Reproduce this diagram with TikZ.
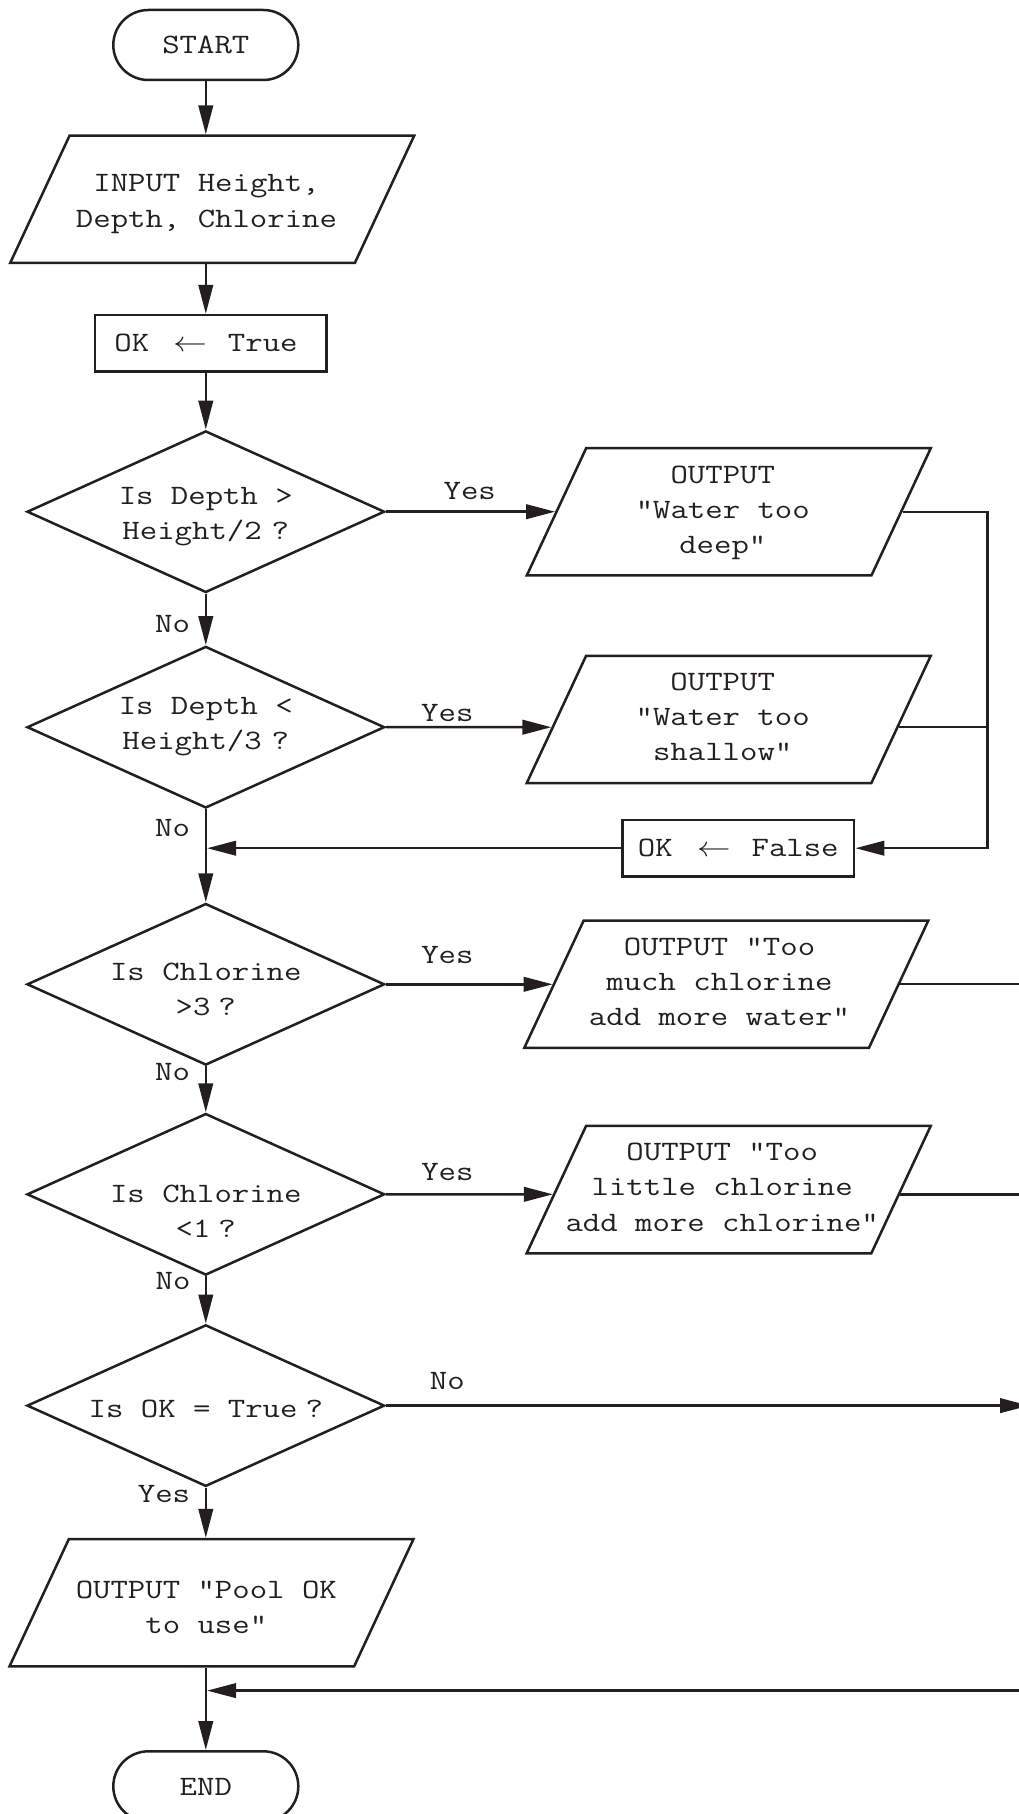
\documentclass[tikz,border=0pt]{standalone}
\usepackage{fontspec}
\usepackage{graphicx}
\usetikzlibrary{shapes.geometric,shapes.misc,arrows.meta,intersections,calc}
\definecolor{ink}{HTML}{231F20}
\newcommand\T[3]{\raisebox{#2}[0pt][0pt]{\makebox[0pt]{\hspace*{#1}\hspace*{#1}\scalebox{1}[0.83]{\begin{tabular}[t]{@{}c@{}}#3\end{tabular}}}}}
\newcommand\qs{\hspace{8pt}}
\newcommand\la{\scalebox{3.38}{\fontsize{10}{12}\selectfont$\leftarrow$}}
\newcommand\asg[2]{#1\hspace{24pt}\la\hspace{21pt}#2}
\tikzset{
  every node/.style={inner sep=0pt, text=ink, font=\ttfamily\fontsize{33.8}{42.6}\selectfont},
  base/.style={draw=ink, line width=2.5pt},
  term/.style={base, rounded rectangle, minimum width=185pt, minimum height=70pt},
  para/.style={base, trapezium, trapezium left angle=65, trapezium right angle=115,
    trapezium stretches body=true, minimum width=404pt, inner xsep=0pt, inner ysep=63.65pt},
  box/.style={base, rectangle, minimum width=231.7pt, minimum height=56.5pt},
  dia/.style={base, diamond, minimum width=357.6pt, minimum height=161.6pt},
  flow/.style={draw=ink, line width=2.5pt},
  arr/.style={flow, -{Triangle[length=29pt,width=14.5pt]}},
}
\begin{document}
\begin{tikzpicture}[x=1pt,y=-1pt]
\useasboundingbox (0,0) rectangle (1019,1814);
\clip (0,0) rectangle (1019,1814);
% nodes
\node[term] (start) at (205.8,45) {\T{0pt}{-8.3pt}{START}};
\node[para] (input) at (212.2,199.3) {\T{-5.7pt}{7.6pt}{INPUT Height,\\Depth, Chlorine}};
\node[box] (ok1) at (210.8,343.3) {\T{-4.8pt}{-8.3pt}{\asg{OK}{True}}};
\node[dia] (d1) at (205.8,511.7) {\T{0pt}{7.4pt}{Is Depth >\\Height/2\hspace{10pt}?}};
\node[para] (o1) at (728.8,511.8) {\T{-6pt}{28.6pt}{OUTPUT\\"Water too\\deep"}};
\node[dia] (d2) at (205.8,727.2) {\T{0pt}{13.2pt}{Is Depth <\\Height/3\hspace{10pt}?}};
\node[para] (o2) at (728.7,719.5) {\T{-6pt}{29.3pt}{OUTPUT\\"Water too\\shallow"}};
\node[box] (ok2) at (738.3,848.2) {\T{0pt}{-8.5pt}{\asg{OK}{False}}};
\node[dia] (d3) at (205.8,984.3) {\T{0pt}{4.3pt}{Is Chlorine\\>3\qs?}};
\node[para] (o3) at (726.3,984.2) {\T{-6.8pt}{29.2pt}{OUTPUT "Too\\much chlorine\\add more water"}};
\node[dia] (d4) at (205.8,1194.3) {\T{0pt}{-8pt}{Is Chlorine\\<1\qs?}};
\node[para] (o4) at (728.7,1189.6) {\T{-6.5pt}{29pt}{OUTPUT "Too\\little chlorine\\add more chlorine"}};
\node[dia] (d5) at (205.8,1405.6) {\T{0pt}{-11.7pt}{Is OK = True\qs?}};
\node[para] (pool) at (211.5,1602.7) {\T{-5.2pt}{4.5pt}{OUTPUT "Pool OK\\to use"}};
\node[term] (end) at (205.8,1786.3) {\T{0pt}{-8.9pt}{END}};
% labels
\node (ly1) at (469.7,499) {\T{0pt}{0pt}{Yes}};
\node (ly2) at (447.3,721) {\T{0pt}{0pt}{Yes}};
\node (ly3) at (447.4,963) {\T{0pt}{0pt}{Yes}};
\node (ly4) at (447.4,1180.5) {\T{0pt}{0pt}{Yes}};
\node (ln5) at (447.3,1389.9) {\T{0pt}{0pt}{No}};
\node (ln1) at (172.5,632.7) {\T{0pt}{0pt}{No}};
\node (ln2) at (172.5,836) {\T{0pt}{0pt}{No}};
\node (ln3) at (172.5,1080.7) {\T{0pt}{0pt}{No}};
\node (ln4) at (173,1289.3) {\T{0pt}{0pt}{No}};
\node (ly5) at (164,1502.3) {\T{0pt}{0pt}{Yes}};
% helper coordinates
\coordinate (bus) at (987.5,0);
\coordinate (off) at (1030,0);
\coordinate (tip) at (1029,0);
\coordinate (ret) at (1030,1690.6);
% main flow
\draw[arr] (start.south) -- (start.south |- input.north);
\draw[arr] (input.south -| start.south) -- (ok1.north -| start.south);
\draw[arr] (ok1.south -| start.south) -- (d1.north);
\draw[arr] (d1.south) -- (d2.north);
\draw[arr] (d2.south) -- (d3.north);
\draw[arr] (d3.south) -- (d4.north);
\draw[arr] (d4.south) -- (d5.north);
\draw[arr] (d5.south) -- (d5.south |- pool.north);
\draw[arr] (pool.south -| d5.south) -- (end.north);
% branch 1
\draw[arr] (d1.east) -- (d1.east -| o1.left side);
\draw[arr] (o1.right side) -- (o1.right side -| bus) |- (ok2.east);
% branch 2
\path[name path=o2l] (o2.bottom left corner) -- (o2.top left corner);
\path[name path=o2r] (o2.bottom right corner) -- (o2.top right corner);
\path[name path=h2] (d2.east) -- ++(900,0);
\path[name intersections={of=o2l and h2, by={p2}}];
\path[name intersections={of=o2r and h2, by={q2}}];
\draw[arr] (d2.east) -- (p2);
\draw[flow] (q2) -- (q2 -| bus);
\draw[arr, shorten >=1.3pt] (ok2.west) -- (ok2.west -| d2.south);
% branch 3
\draw[arr] (d3.east) -- (d3.east -| o3.left side);
\draw[flow] (o3.right side) -- (o3.right side -| off);
% branch 4
\path[name path=o4l] (o4.bottom left corner) -- (o4.top left corner);
\path[name path=o4r] (o4.bottom right corner) -- (o4.top right corner);
\path[name path=h4] (d4.east) -- ++(900,0);
\path[name intersections={of=o4l and h4, by={p4}}];
\path[name intersections={of=o4r and h4, by={q4}}];
\draw[arr] (d4.east) -- (p4);
\draw[flow] (q4) -- (q4 -| off);
% branch 5
\draw[arr] (d5.east) -- (d5.east -| tip);
\draw[arr, shorten >=1.3pt] (ret) -- (ret -| end.north);
\end{tikzpicture}
\end{document}
